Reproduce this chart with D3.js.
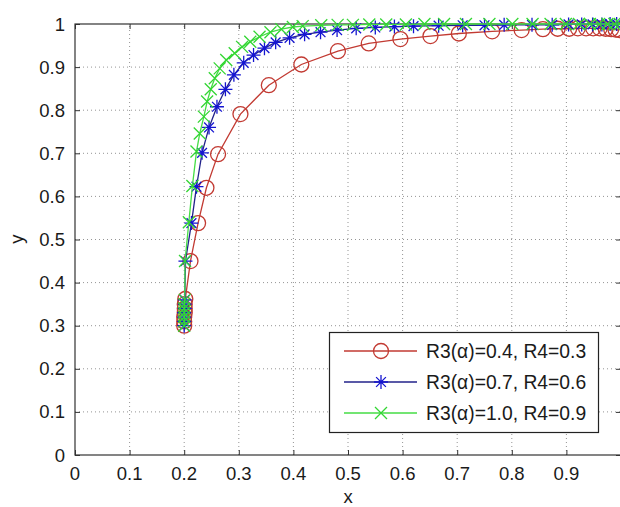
<!DOCTYPE html>
<html>
<head>
<meta charset="utf-8">
<style>
body { margin: 0; background: #fff; }
text { font-family: Arial, "Liberation Sans", sans-serif; fill: #1a1a1a; }
.grid line { stroke: #666; stroke-opacity: 0.7; stroke-dasharray: 1,3; }
</style>
</head>
<body>
<svg width="620" height="507"></svg>
<script src="https://cdn.jsdelivr.net/npm/d3@7"></script>
<script>

// series 1: R3(a)=0.4, R4=0.3
var xA = [0.200,0.200,0.200,0.201,0.201,0.201,0.202,0.2115,0.2254,0.2407,0.262,0.303,0.355,0.4145,0.4815,0.538,0.596,0.651,0.703,0.764,0.818,0.857,0.884,0.905,0.921,0.936,0.949,0.961,0.972,0.982,0.990,0.997];
var yA = [0.300,0.310,0.320,0.330,0.340,0.350,0.362,0.450,0.538,0.620,0.698,0.791,0.858,0.906,0.937,0.955,0.965,0.972,0.978,0.983,0.986,0.988,0.989,0.989,0.990,0.990,0.990,0.990,0.989,0.988,0.987,0.986];

// series 2: R3(a)=0.7, R4=0.6
var xB = [0.200,0.200,0.200,0.200,0.201,0.201,0.201,0.2023,0.2133,0.2225,0.2327,0.2455,0.260,0.2755,0.291,0.309,0.327,0.347,0.3675,0.393,0.4205,0.4497,0.480,0.515,0.550,0.585,0.620,0.666,0.710,0.750,0.786,0.837,0.874,0.904,0.928,0.948,0.965,0.980,0.992];
var yB = [0.300,0.310,0.320,0.330,0.340,0.350,0.360,0.450,0.538,0.6225,0.701,0.760,0.808,0.8485,0.882,0.910,0.928,0.944,0.9575,0.968,0.976,0.981,0.986,0.990,0.992,0.994,0.995,0.996,0.997,0.997,0.998,0.998,0.998,0.999,0.999,0.999,0.999,1.000,1.000];

// series 3: R3(a)=1.0, R4=0.9
var xC = [0.200,0.200,0.200,0.200,0.200,0.200,0.201,0.2015,0.2085,0.215,0.2225,0.2285,0.236,0.242,0.2486,0.256,0.265,0.277,0.2925,0.306,0.321,0.338,0.358,0.378,0.399,0.417,0.451,0.481,0.509,0.539,0.570,0.606,0.640,0.676,0.716,0.759,0.801,0.838,0.871,0.899,0.923,0.943,0.960,0.975,0.988,0.998];
var yC = [0.300,0.310,0.320,0.330,0.340,0.350,0.360,0.450,0.540,0.624,0.704,0.746,0.785,0.820,0.8485,0.874,0.897,0.9165,0.932,0.947,0.959,0.9705,0.981,0.988,0.993,0.995,0.997,0.998,0.998,0.999,0.999,0.999,1.000,1.000,1.000,1.000,1.000,1.000,1.000,1.000,1.000,1.000,1.000,1.000,1.000,1.000];

var labels = ["R3(\u03b1)=0.4, R4=0.3", "R3(\u03b1)=0.7, R4=0.6", "R3(\u03b1)=1.0, R4=0.9"];
var ticks = d3.range(0, 11).map(function(i) { return i / 10; });

var svg = d3.select("svg");
var x = d3.scaleLinear().domain([0, 1]).range([75, 621]);
var y = d3.scaleLinear().domain([0, 1]).range([455, 24]);

var series = [
  { xs: xA, ys: yA, line: "#c23a32", mark: "#c23a32", sym: "circle", label: labels[0] },
  { xs: xB, ys: yB, line: "#22228a", mark: "#1515d0", sym: "star", label: labels[1] },
  { xs: xC, ys: yC, line: "#44dd44", mark: "#33d633", sym: "cross", label: labels[2] }
];

// grid
var grid = svg.append("g").attr("class", "grid");
grid.selectAll(".gx").data(ticks.slice(1, 10)).enter().append("line")
    .attr("x1", function(d) { return x(d); }).attr("x2", function(d) { return x(d); })
    .attr("y1", y(0)).attr("y2", y(1));
grid.selectAll(".gy").data(ticks.slice(1, 10)).enter().append("line")
    .attr("y1", function(d) { return y(d); }).attr("y2", function(d) { return y(d); })
    .attr("x1", x(0)).attr("x2", x(1));

// axes with inward ticks
function fmt(d) { return d === 0 ? "0" : d === 1 ? "1" : d3.format(".1f")(d); }

var ax = svg.append("g").attr("transform", "translate(0," + y(0) + ")")
    .call(d3.axisTop(x).tickValues(ticks).tickSize(5).tickFormat(""));
var ax2 = svg.append("g").attr("transform", "translate(0," + y(1) + ")")
    .call(d3.axisBottom(x).tickValues(ticks).tickSize(5).tickFormat(""));
var ay = svg.append("g").attr("transform", "translate(" + x(0) + ",0)")
    .call(d3.axisRight(y).tickValues(ticks).tickSize(5).tickFormat(""));
var ay2 = svg.append("g").attr("transform", "translate(" + x(1) + ",0)")
    .call(d3.axisLeft(y).tickValues(ticks).tickSize(5).tickFormat(""));
[ax, ax2, ay, ay2].forEach(function(g) {
  g.select(".domain").remove();
  g.selectAll("line").attr("stroke", "#333");
});

svg.append("rect")
    .attr("x", x(0)).attr("y", y(1))
    .attr("width", x(1) - x(0)).attr("height", y(0) - y(1))
    .attr("fill", "none").attr("stroke", "#333").attr("stroke-width", 1.2);

// tick labels
svg.selectAll(".xl").data(ticks.slice(0, 10)).enter().append("text")
    .attr("x", function(d) { return x(d); }).attr("y", 480)
    .attr("text-anchor", "middle").style("font-size", "18.5px")
    .text(fmt);
svg.selectAll(".yl").data(ticks).enter().append("text")
    .attr("x", 65).attr("y", function(d) { return y(d) + 6.5; })
    .attr("text-anchor", "end").style("font-size", "18.5px")
    .text(fmt);

svg.append("text").attr("x", 348).attr("y", 503).attr("text-anchor", "middle")
    .style("font-size", "18.5px").text("x");
svg.append("text").attr("transform", "translate(23,239) rotate(-90)").attr("text-anchor", "middle")
    .style("font-size", "18.5px").text("y");

// markers
function drawMark(g, sym, cx, cy, color) {
  if (sym === "circle") {
    g.append("circle").attr("cx", cx).attr("cy", cy).attr("r", 7.5)
        .attr("fill", "none").attr("stroke", color).attr("stroke-width", 1.3);
  } else if (sym === "star") {
    var r = 7;
    var p = "M" + (cx - r) + "," + cy + "h" + (2 * r) +
            "M" + cx + "," + (cy - r) + "v" + (2 * r) +
            "M" + (cx - r * 0.7) + "," + (cy - r * 0.7) + "l" + (1.4 * r) + "," + (1.4 * r) +
            "M" + (cx - r * 0.7) + "," + (cy + r * 0.7) + "l" + (1.4 * r) + "," + (-1.4 * r);
    g.append("path").attr("d", p).attr("stroke", color).attr("stroke-width", 1.3).attr("fill", "none");
  } else {
    var s = 6;
    var q = "M" + (cx - s) + "," + (cy - s) + "l" + (2 * s) + "," + (2 * s) +
            "M" + (cx - s) + "," + (cy + s) + "l" + (2 * s) + "," + (-2 * s);
    g.append("path").attr("d", q).attr("stroke", color).attr("stroke-width", 1.3).attr("fill", "none");
  }
}

var line = d3.line().x(function(d) { return x(d[0]); }).y(function(d) { return y(d[1]); });

series.forEach(function(s) {
  var pts = d3.zip(s.xs, s.ys);
  var g = svg.append("g");
  g.append("path").datum(pts).attr("d", line)
      .attr("fill", "none").attr("stroke", s.line).attr("stroke-width", 1.3);
  pts.forEach(function(p) { drawMark(g, s.sym, x(p[0]), y(p[1]), s.mark); });
});

// legend
var lg = svg.append("g");
lg.append("rect").attr("x", 329.5).attr("y", 332.5).attr("width", 269).attr("height", 100)
    .attr("fill", "#fff").attr("stroke", "#222").attr("stroke-width", 1.2);
series.forEach(function(s, i) {
  var ly = 351 + i * 31;
  lg.append("line").attr("x1", 344).attr("x2", 417).attr("y1", ly).attr("y2", ly)
      .attr("stroke", s.line).attr("stroke-width", 1.3);
  drawMark(lg, s.sym, 381, ly, s.mark);
  lg.append("text").attr("x", 426).attr("y", ly + 7).style("font-size", "19.3px").text(s.label);
});

</script>
</body>
</html>
